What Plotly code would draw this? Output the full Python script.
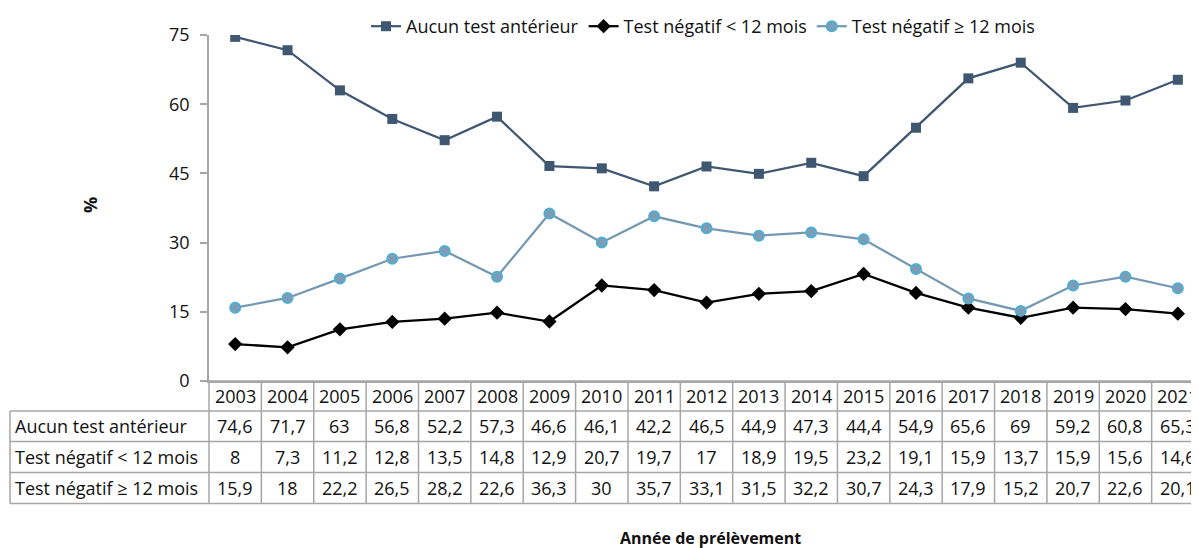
import plotly.graph_objects as go

years = ["2003", "2004", "2005", "2006", "2007", "2008", "2009", "2010", "2011", "2012",
         "2013", "2014", "2015", "2016", "2017", "2018", "2019", "2020", "2021"]
aucun = [74.6, 71.7, 63, 56.8, 52.2, 57.3, 46.6, 46.1, 42.2, 46.5, 44.9, 47.3, 44.4, 54.9,
         65.6, 69, 59.2, 60.8, 65.3]
neg_lt12 = [8, 7.3, 11.2, 12.8, 13.5, 14.8, 12.9, 20.7, 19.7, 17, 18.9, 19.5, 23.2, 19.1,
            15.9, 13.7, 15.9, 15.6, 14.6]
neg_ge12 = [15.9, 18, 22.2, 26.5, 28.2, 22.6, 36.3, 30, 35.7, 33.1, 31.5, 32.2, 30.7, 24.3,
            17.9, 15.2, 20.7, 22.6, 20.1]
series_names = ["Aucun test antérieur", "Test négatif < 12 mois", "Test négatif ≥ 12 mois"]
y_ticks = [0, 15, 30, 45, 60, 75]

FONT = "Open Sans"
TXT = "#111111"
GRID = "#a6a6a6"
OFF = 8  # page body margin offset
W, H = 1199 - OFF, 548 - OFF
ML, MT = 209 - OFF, 29 - OFF
MR = 0
MB = H - (381 - OFF)
plot_w = W - ML - MR
plot_h = H - MT - MB
n = len(years)
px_per_cat = 52.37
xmax = -0.5 + plot_w / px_per_cat


def fmt(v):
    return ("%g" % v).replace(".", ",")


def py(p):
    """reference pixel y -> paper y"""
    return ((381 - OFF) - (p - OFF)) / plot_h


def pxp(p):
    """reference pixel x -> paper x"""
    return ((p - OFF) - ML) / plot_w


fig = go.Figure()
idx = list(range(n))
fig.add_trace(go.Scatter(
    x=idx, y=aucun, name=series_names[0], mode="lines+markers",
    line=dict(color="#3F5770", width=2.25),
    marker=dict(symbol="square", size=10, color="#3F5770"),
))
fig.add_trace(go.Scatter(
    x=idx, y=neg_lt12, name=series_names[1], mode="lines+markers",
    line=dict(color="#000000", width=2.25),
    marker=dict(symbol="diamond", size=11, color="#000000"),
))
fig.add_trace(go.Scatter(
    x=idx, y=neg_ge12, name=series_names[2], mode="lines+markers",
    line=dict(color="#7598B2", width=2.25),
    marker=dict(symbol="circle", size=10, color="#7D9CB5",
                line=dict(color="#4FAFD2", width=2)),
))

row_edges_px = [381, 411.5, 442.5, 474, 505.5]
row_edges = [py(p) for p in row_edges_px]
left_x = pxp(10)

shapes = []
line_style = dict(color=GRID, width=1.5)
for i, ye in enumerate(row_edges):
    x0 = 0 if i == 0 else left_x
    shapes.append(dict(type="line", xref="paper", yref="paper", x0=x0, x1=1,
                       y0=ye, y1=ye, line=line_style, layer="above"))
shapes.append(dict(type="line", xref="paper", yref="paper", x0=left_x, x1=left_x,
                   y0=row_edges[1], y1=row_edges[-1], line=line_style))
shapes.append(dict(type="line", xref="paper", yref="paper", x0=0, x1=0,
                   y0=row_edges[0], y1=row_edges[-1], line=line_style))
for k in range(1, n):
    shapes.append(dict(type="line", xref="x", yref="paper", x0=k - 0.5, x1=k - 0.5,
                       y0=row_edges[0], y1=row_edges[-1], line=line_style))

annotations = []
row_centers = [(row_edges[i] + row_edges[i + 1]) / 2 for i in range(4)]
tfont = dict(family=FONT, size=18, color=TXT)
for k, yr in enumerate(years):
    annotations.append(dict(x=k, y=row_centers[0], xref="x", yref="paper", text=yr,
                            showarrow=False, font=tfont, xanchor="center", yanchor="middle"))
for r, vals in enumerate([aucun, neg_lt12, neg_ge12]):
    annotations.append(dict(x=pxp(13), y=row_centers[r + 1], xref="paper", yref="paper",
                            text=series_names[r], showarrow=False, font=tfont,
                            xanchor="left", yanchor="middle"))
    for k, v in enumerate(vals):
        annotations.append(dict(x=k, y=row_centers[r + 1], xref="x", yref="paper",
                                text=fmt(v), showarrow=False, font=tfont,
                                xanchor="center", yanchor="middle"))

annotations.append(dict(x=pxp(710), y=py(541), xref="paper", yref="paper",
                        text="<b>Année de prélèvement</b>", showarrow=False,
                        font=dict(family=FONT, size=16, color=TXT),
                        xanchor="center", yanchor="middle"))
annotations.append(dict(x=pxp(90), y=py(202), xref="paper", yref="paper",
                        text="<b>%</b>", showarrow=False, textangle=-90,
                        font=dict(family=FONT, size=18, color=TXT),
                        xanchor="center", yanchor="middle"))

fig.update_layout(
    width=W, height=H,
    margin=dict(l=ML, r=MR, t=MT, b=MB, pad=0),
    paper_bgcolor="white", plot_bgcolor="white",
    font=dict(family=FONT, size=18, color=TXT),
    showlegend=True,
    legend=dict(orientation="h", x=pxp(703), xanchor="center", y=py(20), yanchor="middle",
                font=dict(family=FONT, size=18, color=TXT), itemwidth=30,
                bgcolor="rgba(0,0,0,0)", tracegroupgap=0),
    xaxis=dict(range=[-0.5, xmax], showgrid=False, zeroline=False, showticklabels=False,
               ticks="", showline=True, linecolor=GRID, linewidth=1.5),
    yaxis=dict(range=[0, 75], tickvals=y_ticks, showgrid=False, zeroline=False,
               showline=True, linecolor=GRID, linewidth=1.5, ticks="outside",
               ticklen=7, tickcolor=GRID, tickwidth=1.5, ticklabelstandoff=7,
               tickfont=dict(family=FONT, size=18, color=TXT)),
    shapes=shapes,
    annotations=annotations,
)

fig.write_html("out.html")
